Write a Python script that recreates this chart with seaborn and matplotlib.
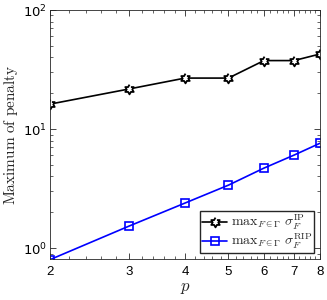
import numpy as np
import pandas as pd
import matplotlib
matplotlib.use("Agg")
import matplotlib.pyplot as plt
import seaborn as sns
from matplotlib.ticker import LogLocator, FixedLocator, NullFormatter, FixedFormatter

sns.set_style("ticks")
plt.rcParams["font.family"] = ["Liberation Sans", "DejaVu Sans"]
plt.rcParams["mathtext.fontset"] = "cm"

# data
p = [2, 3, 4, 5, 6, 7, 8]
max_ip = [16.2, 21.7, 26.8, 26.8, 37.6, 37.6, 42.7]
max_rip = [0.8, 1.53, 2.39, 3.38, 4.7, 6.04, 7.6]

df = pd.DataFrame({"p": p, "ip": max_ip, "rip": max_rip})

# six-pointed star marker
ang = np.deg2rad(90 + 30 * np.arange(12))
rad = np.where(np.arange(12) % 2 == 0, 1.0, 1 / np.sqrt(3))
hexagram = list(zip(rad * np.cos(ang), rad * np.sin(ang)))

fig = plt.figure(figsize=(3.27, 3.0), dpi=100)
ax = fig.add_axes([50 / 327, 41 / 300, 270 / 327, 249 / 300])

sns.lineplot(data=df, x="p", y="ip", ax=ax, color="black", lw=1.2,
             marker=hexagram, markersize=7, markerfacecolor="white",
             markeredgecolor="black", markeredgewidth=1.3,
             label=r"$\mathrm{max}_{F\in\Gamma}\ \sigma_F^{\mathrm{IP}}$")
sns.lineplot(data=df, x="p", y="rip", ax=ax, color="#0000ff", lw=1.2,
             marker="s", markersize=5.5, markerfacecolor="none",
             markeredgecolor="#0000ff", markeredgewidth=1.2,
             label=r"$\mathrm{max}_{F\in\Gamma}\ \sigma_F^{\mathrm{RIP}}$")

ax.set_xscale("log")
ax.set_yscale("log")
ax.set_xlim(2, 8)
ax.set_ylim(0.81, 100)

ax.xaxis.set_major_locator(FixedLocator(p))
ax.xaxis.set_major_formatter(FixedFormatter([str(v) for v in p]))
ax.xaxis.set_minor_locator(FixedLocator(np.arange(2, 8.01, 0.2)))
ax.xaxis.set_minor_formatter(NullFormatter())
ax.yaxis.set_major_locator(FixedLocator([1, 10, 100]))
ax.yaxis.set_major_formatter(FixedFormatter([r"$10^0$", r"$10^1$", r"$10^2$"]))
ax.yaxis.set_minor_locator(LogLocator(base=10, subs=np.arange(2, 10)))
ax.yaxis.set_minor_formatter(NullFormatter())

ax.tick_params(which="both", direction="in", top=True, right=True,
               colors="#262626", labelcolor="black", labelsize=9.5)
ax.tick_params(which="major", length=4, width=0.6)
ax.tick_params(which="minor", length=2, width=0.5)
ax.tick_params(axis="x", pad=5)
ax.tick_params(axis="y", pad=2)
for lab in ax.get_yticklabels():
    lab.set_math_fontfamily("dejavusans")
for s in ax.spines.values():
    s.set_linewidth(0.6)
    s.set_color("#262626")

ax.set_xlabel(r"$p$", fontsize=12, labelpad=2)
ax.set_ylabel(r"$\mathrm{Maximum\ of\ penalty}$", fontsize=11, labelpad=2)

ax.legend(loc="lower right", fontsize=10, frameon=True, fancybox=False,
          edgecolor="#262626", framealpha=1, borderpad=0.15,
          handlelength=1.8, handletextpad=0.3, labelspacing=0.0,
          borderaxespad=0.4)

fig.savefig("out.png", dpi=100)
